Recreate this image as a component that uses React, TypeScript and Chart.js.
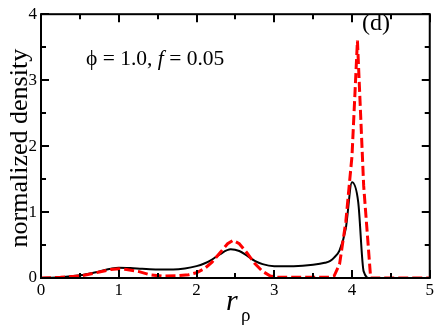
import React, { useEffect, useRef } from "react";
import { Chart, registerables } from "chart.js";

Chart.register(...registerables);

// Black solid curve
const blackR = [0, 0.25, 0.5, 0.75, 0.9, 1.0, 1.15, 1.3, 1.5, 1.7, 1.85, 2.0, 2.1, 2.2, 2.3, 2.44, 2.55, 2.65, 2.75, 2.85, 3.0, 3.25, 3.5, 3.65, 3.72, 3.77, 3.84, 3.92, 4.0, 4.08, 4.15, 4.23, 4.5, 5.0];
const blackDensity = [0, 0.01, 0.04, 0.1, 0.14, 0.155, 0.15, 0.14, 0.13, 0.13, 0.145, 0.18, 0.22, 0.28, 0.36, 0.435, 0.41, 0.34, 0.26, 0.21, 0.18, 0.18, 0.2, 0.23, 0.26, 0.31, 0.42, 0.75, 1.45, 1.15, 0.1, 0, 0, 0];

// Red dashed curve
const redR = [0, 0.25, 0.5, 0.75, 0.9, 1.0, 1.1, 1.25, 1.4, 1.55, 1.75, 1.9, 2.0, 2.1, 2.2, 2.3, 2.4, 2.47, 2.55, 2.65, 2.75, 2.85, 2.95, 3.05, 3.5, 3.7, 3.77, 3.84, 3.92, 4.0, 4.07, 4.15, 4.24, 4.5, 5.0];
const redDensity = [0, 0.01, 0.03, 0.09, 0.13, 0.14, 0.13, 0.1, 0.05, 0.03, 0.035, 0.05, 0.08, 0.14, 0.24, 0.38, 0.52, 0.57, 0.52, 0.38, 0.22, 0.1, 0.03, 0.01, 0.01, 0.01, 0.03, 0.21, 0.85, 1.85, 3.6, 1.4, 0, 0, 0];

const xMajorTicks = [0, 1, 2, 3, 4, 5];
const xMinorTicks = [0.5, 1.5, 2.5, 3.5, 4.5];
const yMajorTicks = [0, 1, 2, 3, 4];
const yMinorTicks = [0.5, 1.5, 2.5, 3.5];

const yTitle = "normalized density";
const panelLabel = "(d)";
// annotation pieces: [text, italic]
const annotation: [string, boolean][] = [["ϕ = 1.0, ", false], ["f", true], [" = 0.05", false]];

const SERIF = '"Liberation Serif", "Times New Roman", serif';

const framePlugin = {
  id: "frameTicks",
  afterDraw(chart: any) {
    const { ctx, chartArea: a, scales } = chart;
    const xs = scales.x;
    const ys = scales.y;
    ctx.save();
    ctx.strokeStyle = "#000";
    ctx.fillStyle = "#000";
    ctx.lineWidth = 2;
    ctx.strokeRect(a.left, a.top, a.right - a.left, a.bottom - a.top);
    const major = 8;
    const minor = 5;
    ctx.beginPath();
    const xt = (v: number, len: number) => {
      const px = Math.round(xs.getPixelForValue(v));
      ctx.moveTo(px, a.bottom);
      ctx.lineTo(px, a.bottom - len);
      ctx.moveTo(px, a.top);
      ctx.lineTo(px, a.top + len);
    };
    const yt = (v: number, len: number) => {
      const py = Math.round(ys.getPixelForValue(v));
      ctx.moveTo(a.left, py);
      ctx.lineTo(a.left + len, py);
      ctx.moveTo(a.right, py);
      ctx.lineTo(a.right - len, py);
    };
    xMajorTicks.forEach((v) => xt(v, major));
    xMinorTicks.forEach((v) => xt(v, minor));
    yMajorTicks.forEach((v) => yt(v, major));
    yMinorTicks.forEach((v) => yt(v, minor));
    ctx.stroke();

    // y title
    ctx.save();
    ctx.translate(27, (a.top + a.bottom) / 2 + 2);
    ctx.rotate(-Math.PI / 2);
    ctx.font = `26px ${SERIF}`;
    ctx.textAlign = "center";
    ctx.textBaseline = "alphabetic";
    ctx.fillText(yTitle, 0, 0);
    ctx.restore();

    ctx.textAlign = "left";
    ctx.textBaseline = "alphabetic";

    // x title r_rho
    ctx.font = `italic 30px ${SERIF}`;
    ctx.fillText("r", 226, 310);
    ctx.font = `19px ${SERIF}`;
    ctx.fillText("ρ", 241, 321);

    // annotation
    let x = 86;
    annotation.forEach(([t, it]) => {
      ctx.font = `${it ? "italic " : ""}21.5px ${SERIF}`;
      ctx.fillText(t, x, 65);
      x += ctx.measureText(t).width;
    });

    // panel label
    ctx.font = `24px ${SERIF}`;
    ctx.fillText(panelLabel, 362, 30);
    ctx.restore();
  },
};

export default function App() {
  const ref = useRef<HTMLCanvasElement | null>(null);
  useEffect(() => {
    if (!ref.current) return;
    const chart = new Chart(ref.current, {
      type: "line",
      data: {
        datasets: [
          {
            label: "red",
            data: redR.map((r, i) => ({ x: r, y: redDensity[i] })),
            borderColor: "#ff0000",
            borderWidth: 3,
            borderDash: [10, 4],
            pointRadius: 0,
            tension: 0,
            fill: false,
          },
          {
            label: "black",
            data: blackR.map((r, i) => ({ x: r, y: blackDensity[i] })),
            borderColor: "#000000",
            borderWidth: 2,
            pointRadius: 0,
            tension: 0,
            cubicInterpolationMode: "monotone",
            fill: false,
          },
        ],
      },
      options: {
        animation: false,
        responsive: true,
        maintainAspectRatio: false,
        layout: { padding: { left: 0, right: 5, top: 5, bottom: 0 } },
        plugins: { legend: { display: false }, tooltip: { enabled: false } },
        scales: {
          x: {
            type: "linear",
            min: 0,
            max: 5,
            ticks: { stepSize: 1, color: "#000", font: { family: SERIF, size: 17 }, padding: 2, maxRotation: 0 },
            grid: { display: false, drawTicks: false },
            border: { display: false },
            afterFit: (s: any) => { s.height = 54; },
          },
          y: {
            type: "linear",
            min: 0,
            max: 4,
            ticks: { stepSize: 1, color: "#000", font: { family: SERIF, size: 17 }, padding: 4 },
            grid: { display: false, drawTicks: false },
            border: { display: false },
            afterFit: (s: any) => { s.width = 41; },
          },
        },
      },
      plugins: [framePlugin],
    });
    return () => chart.destroy();
  }, []);
  return (
    <div style={{ position: "absolute", left: 0, top: 0, width: 436, height: 332, background: "#fff" }}>
      <canvas ref={ref} />
    </div>
  );
}
